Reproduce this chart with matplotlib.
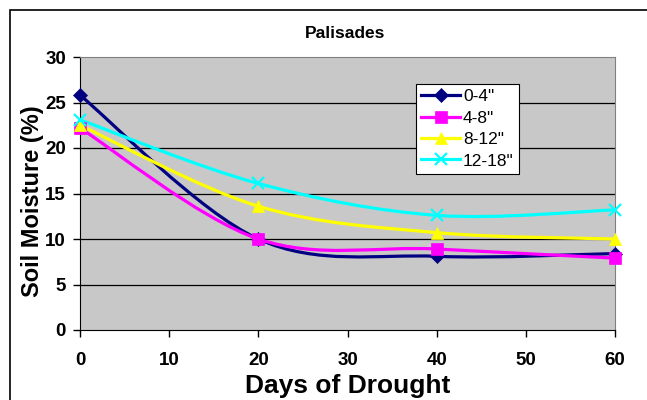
import matplotlib
matplotlib.use("Agg")
import matplotlib.pyplot as plt
from matplotlib.path import Path
from matplotlib.patches import PathPatch, Rectangle
from matplotlib.lines import Line2D
import numpy as np

plt.rcParams['font.family'] = ['Liberation Sans', 'DejaVu Sans']

days = [0, 20, 40, 60]
series_names = ['0-4"', '4-8"', '8-12"', '12-18"']
v_0_4 = [25.8, 10.0, 8.1, 8.4]
v_4_8 = [22.2, 10.0, 8.9, 7.9]
v_8_12 = [22.5, 13.6, 10.7, 10.0]
v_12_18 = [23.1, 16.1, 12.6, 13.2]
colors = ['#000080', '#FF00FF', '#FFFF00', '#00FFFF']
markers = ['D', 's', '^', 'x']
msizes = [7, 8.5, 8.5, 8.5]
title = 'Palisades'
xlabel = 'Days of Drought'
ylabel = 'Soil Moisture (%)'
xticks = [0, 10, 20, 30, 40, 50, 60]
yticks = [0, 5, 10, 15, 20, 25, 30]

fig = plt.figure(figsize=(6.47, 4.0), dpi=100)
fig.patches.append(Rectangle((10/647, -0.01), 1.0, (390/400) + 0.01, transform=fig.transFigure,
                             fill=False, edgecolor='black', linewidth=1.2, zorder=0))
ax = fig.add_axes([80/647, 70/400, 535/647, 273/400])
ax.set_facecolor('#C8C8C8')
ax.set_xlim(0, 60)
ax.set_ylim(0, 30)
ax.set_xticks(xticks)
ax.set_yticks(yticks)
for y in yticks[1:-1]:
    ax.axhline(y, color='black', linewidth=0.9, zorder=1)
ax.spines['top'].set_color('#808080')
ax.spines['right'].set_color('#808080')
ax.spines['left'].set_color('black')
ax.spines['bottom'].set_color('black')
ax.tick_params(axis='both', direction='out', length=5, width=1, labelsize=13.5)
ax.tick_params(axis='x', pad=11)
ax.tick_params(axis='y', pad=5)
for lab in ax.get_xticklabels() + ax.get_yticklabels():
    lab.set_fontweight('bold')


def smooth_path(xs, ys):
    pts = np.column_stack([xs, ys]).astype(float)
    n = len(pts)
    verts = [pts[0]]
    codes = [Path.MOVETO]
    for i in range(n - 1):
        p0 = pts[i - 1] if i > 0 else pts[i]
        p1 = pts[i]
        p2 = pts[i + 1]
        p3 = pts[i + 2] if i + 2 < n else pts[i + 1]
        c1 = p1 + (p2 - p0) / 6.0
        c2 = p2 - (p3 - p1) / 6.0
        verts += [c1, c2, p2]
        codes += [Path.CURVE4] * 3
    return Path(verts, codes)


all_vals = [v_0_4, v_4_8, v_8_12, v_12_18]
handles = []
for vals, c, m, ms, name in zip(all_vals, colors, markers, msizes, series_names):
    patch = PathPatch(smooth_path(days, vals), facecolor='none', edgecolor=c, linewidth=2.3, zorder=3)
    ax.add_patch(patch)
    mew = 1.6 if m == 'x' else 0.5
    ax.plot(days, vals, linestyle='none', marker=m, color=c, markersize=ms,
            markeredgewidth=mew, markeredgecolor=c, zorder=4, clip_on=False)
    handles.append(Line2D([], [], color=c, linewidth=2.3, marker=m, markersize=ms,
                          markeredgewidth=mew, markeredgecolor=c, label=name))

leg = ax.legend(handles=handles, loc='upper left', bbox_to_anchor=(336/535, 246/273),
                frameon=True, fancybox=False, edgecolor='black', facecolor='white',
                framealpha=1, fontsize=12.5, handlelength=2.25, handletextpad=0.15,
                borderpad=0.3, labelspacing=0.36, borderaxespad=0)
leg.get_frame().set_linewidth(0.8)

fig.text(345/647, 1 - 33/400, title, ha='center', va='center', fontsize=12.5, fontweight='bold')
ax.set_xlabel(xlabel, fontsize=19, fontweight='bold', va='center')
ax.xaxis.set_label_coords(0.5, (330 - 386) / 273)
ax.set_ylabel(ylabel, fontsize=17, fontweight='bold', va='center')
ax.yaxis.set_label_coords(-(80 - 33) / 535, (330 - 201) / 273)

fig.savefig('out.png', dpi=100)
